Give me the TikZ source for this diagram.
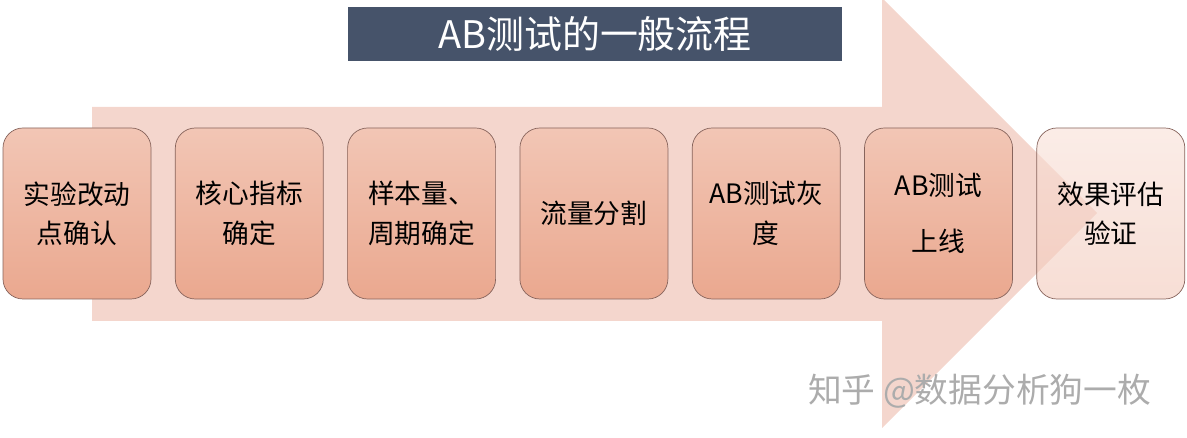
\documentclass[tikz,border=0pt]{standalone}
\usepackage{fontspec}
\setmainfont{Noto Sans CJK SC}
\usetikzlibrary{positioning}
\definecolor{colorArrow}{RGB}{244, 214, 205}
\definecolor{colorTitle}{RGB}{70, 83, 106}
\definecolor{colorTop}{RGB}{242, 198, 181}
\definecolor{colorBottom}{RGB}{234, 168, 143}
\definecolor{colorTopLight}{RGB}{248, 224, 215}
\definecolor{colorBottomLight}{RGB}{242, 200, 185}
\definecolor{colorEdge}{RGB}{135, 100, 92}
\definecolor{colorMark}{RGB}{172, 172, 172}
\tikzstyle{stage} = [rectangle, rounded corners=5mm, minimum width=3.7cm, minimum height=4.275cm, align=center, font=\fontsize{19}{28}\selectfont, draw=colorEdge, line width=0.5pt, top color=colorTop, bottom color=colorBottom]
\tikzstyle{stageLast} = [stage, top color=colorTopLight, bottom color=colorBottomLight, fill opacity=0.6, text opacity=1]
\tikzstyle{title} = [rectangle, minimum width=12.35cm, minimum height=1.35cm, text centered, text=white, fill=colorTitle, font=\fontsize{27}{32}\selectfont]
\tikzstyle{watermark} = [text=colorMark, font=\fontsize{24}{28}\selectfont]

\begin{document}
\begin{tikzpicture}
	\useasboundingbox (0,0) rectangle (29.675,10.95);

	% big arrow behind
	\fill[colorArrow] (2.3,8.275) -- (22.05,8.275) -- (22.05,11.0) -- (27.425,5.625) -- (22.05,0.25) -- (22.05,2.925) -- (2.3,2.925) -- cycle;

	\node (title)[title] at (14.875,10.1) {AB测试的一般流程};

	% steps
	\node (sChange)[stage] at (1.925,5.6125) {实验改动\\点确认};
	\node (sMetric)[stage, right=5.9mm of sChange] {核心指标\\确定};
	\node (sSample)[stage, right=5.9mm of sMetric] {样本量、\\周期确定};
	\node (sSplit)[stage, right=5.9mm of sSample] {流量分割};
	\node (sGray)[stage, right=5.9mm of sSplit] {AB测试灰\\度};
	\node (sOnline)[stage, right=5.9mm of sGray] {AB测试\\[4mm]上线};
	\node (sEval)[stageLast, right=5.9mm of sOnline] {效果评估\\验证};

	\node (mark)[watermark] at (24.49,1.175) {知乎 @数据分析狗一枚};

\end{tikzpicture}
\end{document}
